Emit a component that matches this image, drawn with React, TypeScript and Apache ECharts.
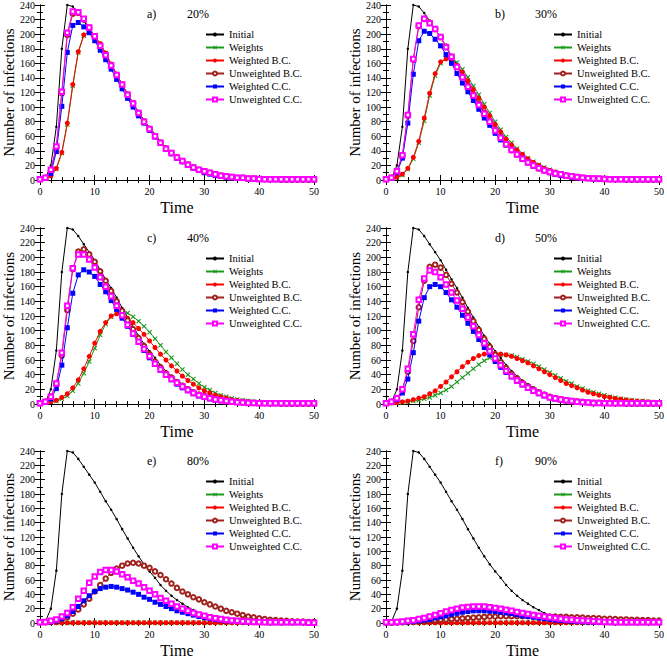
import React, { useEffect, useRef } from "react";
import * as echarts from "echarts";

const TIME = [0,1,2,3,4,5,6,7,8,9,10,11,12,13,14,15,16,17,18,19,20,21,22,23,24,25,26,27,28,29,30,31,32,33,34,35,36,37,38,39,40,41,42,43,44,45,46,47,48,49,50];

const SERIES_NAMES = ["Initial", "Weights", "Weighted B.C.", "Unweighted B.C.", "Weighted C.C.", "Unweighted C.C."];
const PANEL_LABELS = ["a)", "b)", "c)", "d)", "e)", "f)"];
const PANEL_PCTS = ["20%", "30%", "40%", "50%", "80%", "90%"];
const X_TICKS = { min: 0, max: 50, interval: 10 };
const Y_TICKS = { min: 0, max: 240, interval: 20 };

const INITIAL = [1,2,20,73,180,240,238,229,218,207,196,183,170,158,145,131,118,105,93,82,72,63,53,45,38,32,27,22,18,14,11,9,7,5.5,4.5,3.5,3,2.5,2,1.5,1.2,1,0.8,0.6,0.5,0.4,0.3,0.2,0.2,0.1,0.1];

// a) 20%
const A_W = [1,2,5,15,37,76,129,175,198,203,197,187,174,159,145,131,118,105,93,81,71,61,52,44,37,31,26,22,18,14,12,10,8,6,5,4,3,3,2,2,1,1,1,1,1,0.5,0.5,0.5,0.5,0.5,0.5];
const A_WBC = [1,2,6,16,38,78,131,176,199,204,198,187,174,159,145,131,118,105,93,81,71,61,52,44,37,31,26,22,18,14,12,10,8,6,5,4,3,3,2,2,1,1,1,1,1,0.5,0.5,0.5,0.5,0.5,0.5];
const A_UBC = [1,3,13,45,119,199,228,229,220,209,197,184,171,157,144,131,117,105,92,80,70,60,51,43,37,31,26,21,17,14,12,10,8,6,5,4,3,3,2,2,1,1,1,1,0.5,0.5,0.5,0.5,0.5,0.5,0.5];
const A_WCC = [1,3,9,39,101,175,212,216,210,202,191,178,165,152,138,125,112,100,88,78,68,59,50,43,36,30,25,20,16,13,10,8,6,5,4,3,2,2,1.5,1,1,1,0.5,0.5,0.5,0.5,0.5,0.5,0.5,0.5,0.5];
const A_UCC = [1,3,14,46,121,202,231,230,221,209,197,184,171,157,144,131,117,105,92,80,70,60,51,43,37,31,26,21,17,14,12,10,8,6,5,4,3,3,2,2,1.5,1,1,1,1,1,1,1,1,1,1];

// b) 30%
const B_W = [1,2,3,7,15,29,51,81,116,143,160,167,166,161,152,141,129,117,104,92,80,69,59,51,43,36,30,25,21,17,14,11,9,7,6,5,4,3,2.5,2,1.5,1.2,1,1,0.8,0.8,0.6,0.6,0.5,0.5,0.5];
const B_WBC = [1,2,4,8,16,31,53,85,119,146,162,166,164,157,148,136,124,112,100,88,76,66,56,48,41,35,29,24,20,16,13,11,9,7,5.5,4.5,3.5,3,2.5,2,1.5,1.2,1,1,0.8,0.8,0.6,0.6,0.5,0.5,0.5];
const B_UBC = [1,3,12,33,88,165,211,221,216,207,196,183,169,155,142,129,116,104,92,80,69,58,49,41,35,29,24,20,16,13,11,9,7,6,5,4,3,2.5,2,1.5,1.5,1,1,1,0.5,0.5,0.5,0.5,0.5,0.5,0.5];
const B_WCC = [1,3,10,30,78,145,191,204,201,193,184,172,160,146,133,121,109,97,85,75,64,55,48,41,35,29,24,19,16,13,10,8,6,5,4,3,2.5,2,1.5,1,1,1,0.5,0.5,0.5,0.5,0.5,0.5,0.5,0.5,0.5];
const B_UCC = [1,3,12,34,89,166,212,221,215,207,196,182,169,155,141,128,116,103,91,80,68,58,49,41,35,29,24,20,16,13,11,9,8,6,5,4,3,2.5,2,2,1.5,1,1,1,1,1,1,1,1,1,1];

// c) 40%
const C_W = [1,2,3,4,7,11,18,28,42,58,76,94,109,119,124,125,124,119,113,106,98,89,80,71,63,55,47,40,34,28,23,19,15,12,10,8,6,5,4,3,2.5,2,1.5,1,1,1,0.8,0.8,0.6,0.6,0.5];
const C_WBC = [1,2,3,5,9,14,22,33,48,65,83,99,111,120,123,122,117,111,103,95,86,77,68,60,52,45,38,32,27,22,18,15,12,10,8,6,5,4,3,2.5,2,1.5,1.5,1,1,0.8,0.8,0.6,0.6,0.5,0.5];
const C_UBC = [1,3,10,27,66,128,184,208,211,204,194,181,168,154,140,127,114,102,90,79,68,58,50,42,36,30,25,20,16,13,11,9,7,5,4,3.5,3,2,2,1.5,1,1,1,1,0.5,0.5,0.5,0.5,0.5,0.5,0.5];
const C_WCC = [1,3,7,21,53,104,151,176,183,180,174,163,153,141,129,117,106,95,84,73,63,54,46,39,33,27,22,18,14,11,9,7,5.5,4.5,3.5,3,2.5,2,1.5,1,1,1,0.5,0.5,0.5,0.5,0.5,0.5,0.5,0.5,0.5];
const C_UCC = [1,3,10,28,70,134,185,204,204,197,186,173,160,147,134,121,108,96,85,75,65,55,47,40,34,29,24,19,15,12,10,8,6,5,4,3,2.5,2,1.5,1.5,1,1,1,1,1,1,1,1,1,1,1];

// d) 50%
const D_W = [1,1,1.5,2,3,4,5,7,9,12,15,19,24,30,36,42,48,54,59,63,66,67,67,66,64,61,58,55,51,47,43,39,35,31,28,24,21,18,16,14,12,10,8.5,7,6,5,4.5,4,3,2.5,2];
const D_WBC = [1,1.5,2,3,4,6,8,10,14,18,24,30,37,44,51,57,62,66,68,69,69,68,67,65,62,59,56,52,48,44,40,36,32,28,25,22,19,16,14,12,10,9,7.5,6.5,5.5,4.5,4,3.5,3,2.5,2];
const D_UBC = [1,3,8,19,44,86,132,168,187,190,186,176,164,152,139,126,113,101,89,78,67,57,49,41,35,29,24,20,16,13,10,8,6.5,5,4,3.5,3,2,1.5,1.5,1,1,1,1,0.5,0.5,0.5,0.5,0.5,0.5,0.5];
const D_WCC = [1,2,6,15,34,70,113,145,160,163,160,152,142,132,121,110,99,88,77,67,58,50,43,37,31,26,22,18,14,11,9,7,5.5,4.5,3.5,3,2.5,2,1.5,1,1,1,0.5,0.5,0.5,0.5,0.5,0.5,0.5,0.5,0.5];
const D_UCC = [1,3,8,20,48,95,142,171,182,180,173,163,152,141,130,118,106,94,83,72,62,53,45,38,32,27,22,18,15,12,9,7.5,6,5,4,3,2.5,2,1.5,1.5,1,1,1,1,1,1,1,1,1,1,1];

// e) 80%
const E_W = [0.3,0.3,0.3,0.3,0.3,0.3,0.3,0.3,0.3,0.3,0.3,0.3,0.3,0.3,0.3,0.3,0.3,0.3,0.3,0.3,0.3,0.3,0.3,0.3,0.3,0.3,0.3,0.3,0.3,0.3,0.3,0.3,0.3,0.3,0.3,0.3,0.3,0.3,0.3,0.3,0.3,0.3,0.3,0.3,0.3,0.3,0.3,0.3,0.3,0.3,0.3];
const E_WBC = [0.3,0.3,0.3,0.3,0.3,0.3,0.3,0.3,0.3,0.3,0.3,0.3,0.3,0.3,0.3,0.3,0.3,0.3,0.3,0.3,0.3,0.3,0.3,0.3,0.3,0.3,0.3,0.3,0.3,0.3,0.3,0.3,0.3,0.3,0.3,0.3,0.3,0.3,0.3,0.3,0.3,0.3,0.3,0.3,0.3,0.3,0.3,0.3,0.3,0.3,0.3];
const E_UBC = [1,1,2,3,5,8,13,19,26,34,44,53,62,70,76,80,83,84,83,80,77,72,67,61,55,49,44,40,36,33,29,26,23,20,17,15,13,11,9,8,6.5,5.5,4.5,4,3.5,3,2.5,2,2,1.5,1.5];
const E_WCC = [1,1,1.5,3,6,10,16,23,31,38,44,48,50,51,50,48,46,43,40,36,33,29,26,23,20,17,15,13,11,9,7.5,6,5,4,3,2.5,2,1.5,1.5,1,1,1,0.5,0.5,0.5,0.5,0.5,0.5,0.5,0.5,0.5];
const E_UCC = [1,1.5,3,5,9,14,22,34,45,56,65,71,74,74,72,68,64,59,55,50,45,40,35,31,27,23,20,17,14,12,10,8,6.5,5.5,4.5,3.5,3,2.5,2,1.5,1.5,1,1,1,1,1,1,1,1,0.5,0.5];

// f) 90%
const F_W = [0.3,0.3,0.3,0.3,0.3,0.3,0.3,0.3,0.3,0.3,0.3,0.3,0.3,0.3,0.3,0.3,0.3,0.3,0.3,0.3,0.3,0.3,0.3,0.3,0.3,0.3,0.3,0.3,0.3,0.3,0.3,0.3,0.3,0.3,0.3,0.3,0.3,0.3,0.3,0.3,0.3,0.3,0.3,0.3,0.3,0.3,0.3,0.3,0.3,0.3,0.3];
const F_WBC = [0.3,0.3,0.3,0.3,0.3,0.3,0.3,0.3,0.3,0.3,0.3,0.3,0.3,0.3,0.3,0.3,0.3,0.3,0.3,0.3,0.3,0.3,0.3,0.3,0.3,0.3,0.3,0.3,0.3,0.3,0.3,0.3,0.3,0.3,0.3,0.3,0.3,0.3,0.3,0.3,0.3,0.3,0.3,0.3,0.3,0.3,0.3,0.3,0.3,0.3,0.3];
const F_UBC = [0.5,0.5,1,1,1.5,2,2.5,3,3.5,4,4.5,5,5.5,6,6.5,7,7.5,8,8.5,9,9,9.5,9.5,9.5,9.5,9.5,9.5,9.5,9.5,9,9,9,8.5,8.5,8,8,7.5,7,7,6.5,6,6,5.5,5,5,4.5,4.5,4,4,3.5,3.5];
const F_WCC = [0.5,0.5,0.5,1,1.5,2,3,4,5,7,8.5,10,12,13.5,15,16,17,17,17,16.5,16,15,14,13,11.5,10,9,8,7,6,5,4,3.5,3,2.5,2,1.5,1.5,1,1,1,0.5,0.5,0.5,0.5,0.5,0.5,0.5,0.5,0.5,0.5];
const F_UCC = [1,1,1.5,2,3,4,5.5,7,9,11,13.5,16,18,20,21.5,22.5,23,23,23,22,21,20,18.5,17,15.5,14,12.5,11,10,9,8,7,6,5,4.5,4,3.5,3,2.5,2,1.5,1.5,1,1,1,1,1,1,1,1,1];

const PANEL_DATA = [
  [INITIAL, A_W, A_WBC, A_UBC, A_WCC, A_UCC],
  [INITIAL, B_W, B_WBC, B_UBC, B_WCC, B_UCC],
  [INITIAL, C_W, C_WBC, C_UBC, C_WCC, C_UCC],
  [INITIAL, D_W, D_WBC, D_UBC, D_WCC, D_UCC],
  [INITIAL, E_W, E_WBC, E_UBC, E_WCC, E_UCC],
  [INITIAL, F_W, F_WBC, F_UBC, F_WCC, F_UCC],
];

const FONT = "Liberation Serif";
const X_SYMBOL = "path://M0,1.5 L1.5,0 L5,3.5 L8.5,0 L10,1.5 L6.5,5 L10,8.5 L8.5,10 L5,6.5 L1.5,10 L0,8.5 L3.5,5 Z";

const STYLES = [
  { color: "#000000", symbol: "circle", size: 2.5, bw: 0 },
  { color: "#1a9a1a", symbol: X_SYMBOL, size: 5, bw: 0 },
  { color: "#ff0000", symbol: "circle", size: 5, bw: 0 },
  { color: "#a0201c", symbol: "emptyCircle", size: 4.5, bw: 1 },
  { color: "#0000ff", symbol: "rect", size: 5, bw: 0 },
  { color: "#ff00ff", symbol: "emptyRect", size: 4.5, bw: 1 },
];

const GRID_POS = [
  { left: 38, top: 4 },
  { left: 386, top: 4 },
  { left: 38, top: 228 },
  { left: 386, top: 228 },
  { left: 38, top: 451 },
  { left: 386, top: 451 },
];
const GRID_W = 276;
const GRID_H = 176;

function buildOption() {
  const grid: any[] = [];
  const xAxis: any[] = [];
  const yAxis: any[] = [];
  const series: any[] = [];
  const legend: any[] = [];
  const graphic: any[] = [];

  const tickStyle = { color: "#000", width: 1 };
  const lineAx = { show: true, lineStyle: tickStyle };

  GRID_POS.forEach((g, i) => {
    grid.push({ left: g.left, top: g.top, width: GRID_W, height: GRID_H, containLabel: false });
    const xBase = {
      gridIndex: i, type: "value", min: X_TICKS.min, max: X_TICKS.max, interval: X_TICKS.interval,
      axisLine: lineAx, splitLine: { show: false },
      axisTick: { show: true, inside: true, length: 5, lineStyle: tickStyle },
      minorTick: { show: true, inside: true, splitNumber: 5, length: 3, lineStyle: tickStyle },
    };
    xAxis.push({
      ...xBase, position: "bottom",
      axisLabel: { fontSize: 10, fontFamily: FONT, color: "#000", margin: 6 },
      name: "Time", nameLocation: "middle", nameGap: 19,
      nameTextStyle: { fontSize: 16, fontFamily: FONT, color: "#000" },
    });
    xAxis.push({ ...xBase, position: "top", axisLabel: { show: false } });
    const yBase = {
      gridIndex: i, type: "value", min: Y_TICKS.min, max: Y_TICKS.max, interval: Y_TICKS.interval,
      axisLine: lineAx, splitLine: { show: false },
      axisTick: { show: true, inside: true, length: 5, lineStyle: tickStyle },
      minorTick: { show: true, inside: true, splitNumber: 2, length: 3, lineStyle: tickStyle },
    };
    yAxis.push({
      ...yBase, position: "left",
      axisLabel: { fontSize: 10, fontFamily: FONT, color: "#000", margin: 5 },
      name: "Number of infections", nameLocation: "middle", nameGap: 21,
      nameTextStyle: { fontSize: 15, fontFamily: FONT, color: "#000" },
    });
    yAxis.push({ ...yBase, position: "right", axisLabel: { show: false } });

    PANEL_DATA[i].forEach((vals, k) => {
      const st = STYLES[k];
      series.push({
        type: "line",
        name: SERIES_NAMES[k],
        xAxisIndex: 2 * i,
        yAxisIndex: 2 * i,
        data: vals.map((v, j) => [TIME[j], v]),
        symbol: st.symbol,
        symbolSize: st.size,
        showAllSymbol: true,
        lineStyle: { color: st.color, width: 1 },
        itemStyle: { color: st.color, borderColor: st.color, borderWidth: st.bw },
        emphasis: { disabled: true },
        z: 2 + k,
      });
    });

    legend.push({
      left: g.left + 167,
      top: g.top + 24,
      orient: "vertical",
      padding: 0,
      itemGap: 0,
      itemWidth: 18,
      itemHeight: 5,
      textStyle: { fontSize: 10.5, fontFamily: FONT, color: "#000", lineHeight: 13 },
      data: SERIES_NAMES,
      selectedMode: false,
    });

    graphic.push({
      type: "text", left: g.left + 109, top: g.top + 4,
      style: { text: PANEL_LABELS[i], fontSize: 12, fontFamily: FONT, fill: "#000" },
    });
    graphic.push({
      type: "text", left: g.left + 149, top: g.top + 4,
      style: { text: PANEL_PCTS[i], fontSize: 12, fontFamily: FONT, fill: "#000" },
    });
  });

  return {
    animation: false,
    backgroundColor: "#fff",
    textStyle: { fontFamily: FONT },
    grid, xAxis, yAxis, series, legend, graphic,
  };
}

export default function App() {
  const ref = useRef<HTMLDivElement>(null);
  useEffect(() => {
    const chart = echarts.init(ref.current!, null, { renderer: "svg" });
    chart.setOption(buildOption());
    return () => chart.dispose();
  }, []);
  return (
    <div
      ref={ref}
      style={{ position: "absolute", left: 0, top: 0, width: 667, height: 659 }}
    />
  );
}
